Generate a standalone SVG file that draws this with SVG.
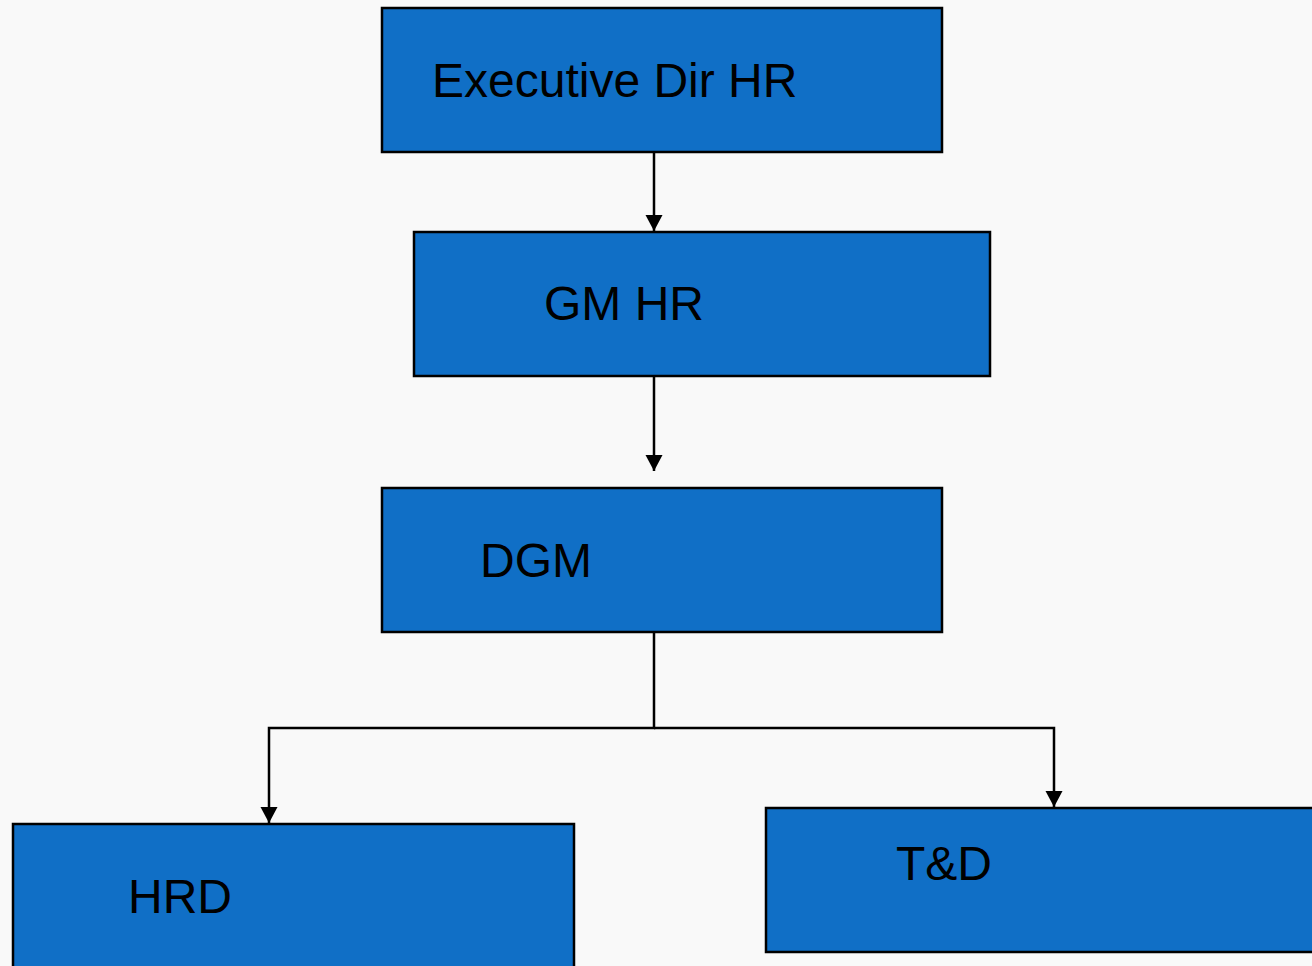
<svg xmlns="http://www.w3.org/2000/svg" width="1312" height="966" viewBox="0 0 1312 966">
  <style>
    .box { fill: #106fc6; stroke: #000; stroke-width: 2.5; }
    .label { font-family: "Liberation Sans", Arial, sans-serif; font-size: 48px; fill: #000; }
    .wire { fill: none; stroke: #000; stroke-width: 2.5; }
  </style>
  <defs>
    <marker id="arrow" markerUnits="userSpaceOnUse" markerWidth="18" markerHeight="18" refX="16" refY="9" orient="auto">
      <path d="M0,0.5 L16,9 L0,17.5 Z" fill="#000"/>
    </marker>
  </defs>
  <rect width="1312" height="966" fill="#f9f9f9"/>

  <g id="connectors">
    <path class="wire" d="M654,152 V231" marker-end="url(#arrow)"/>
    <path class="wire" d="M654,376 V471" marker-end="url(#arrow)"/>
    <path class="wire" d="M654,632 V728 H269 V823" marker-end="url(#arrow)"/>
    <path class="wire" d="M654,728 H1054 V807" marker-end="url(#arrow)"/>
  </g>

  <g id="exec-dir-hr">
    <rect class="box" x="382" y="8" width="560" height="144"/>
    <text class="label" x="432" y="97">Executive Dir HR</text>
  </g>
  <g id="gm-hr">
    <rect class="box" x="414" y="232" width="576" height="144"/>
    <text class="label" x="544" y="320">GM HR</text>
  </g>
  <g id="dgm">
    <rect class="box" x="382" y="488" width="560" height="144"/>
    <text class="label" x="480" y="577">DGM</text>
  </g>
  <g id="hrd">
    <rect class="box" x="13" y="824" width="561" height="160"/>
    <text class="label" x="128" y="913">HRD</text>
  </g>
  <g id="t-and-d">
    <rect class="box" x="766" y="808" width="560" height="144"/>
    <text class="label" x="896" y="880">T&amp;D</text>
  </g>
</svg>
